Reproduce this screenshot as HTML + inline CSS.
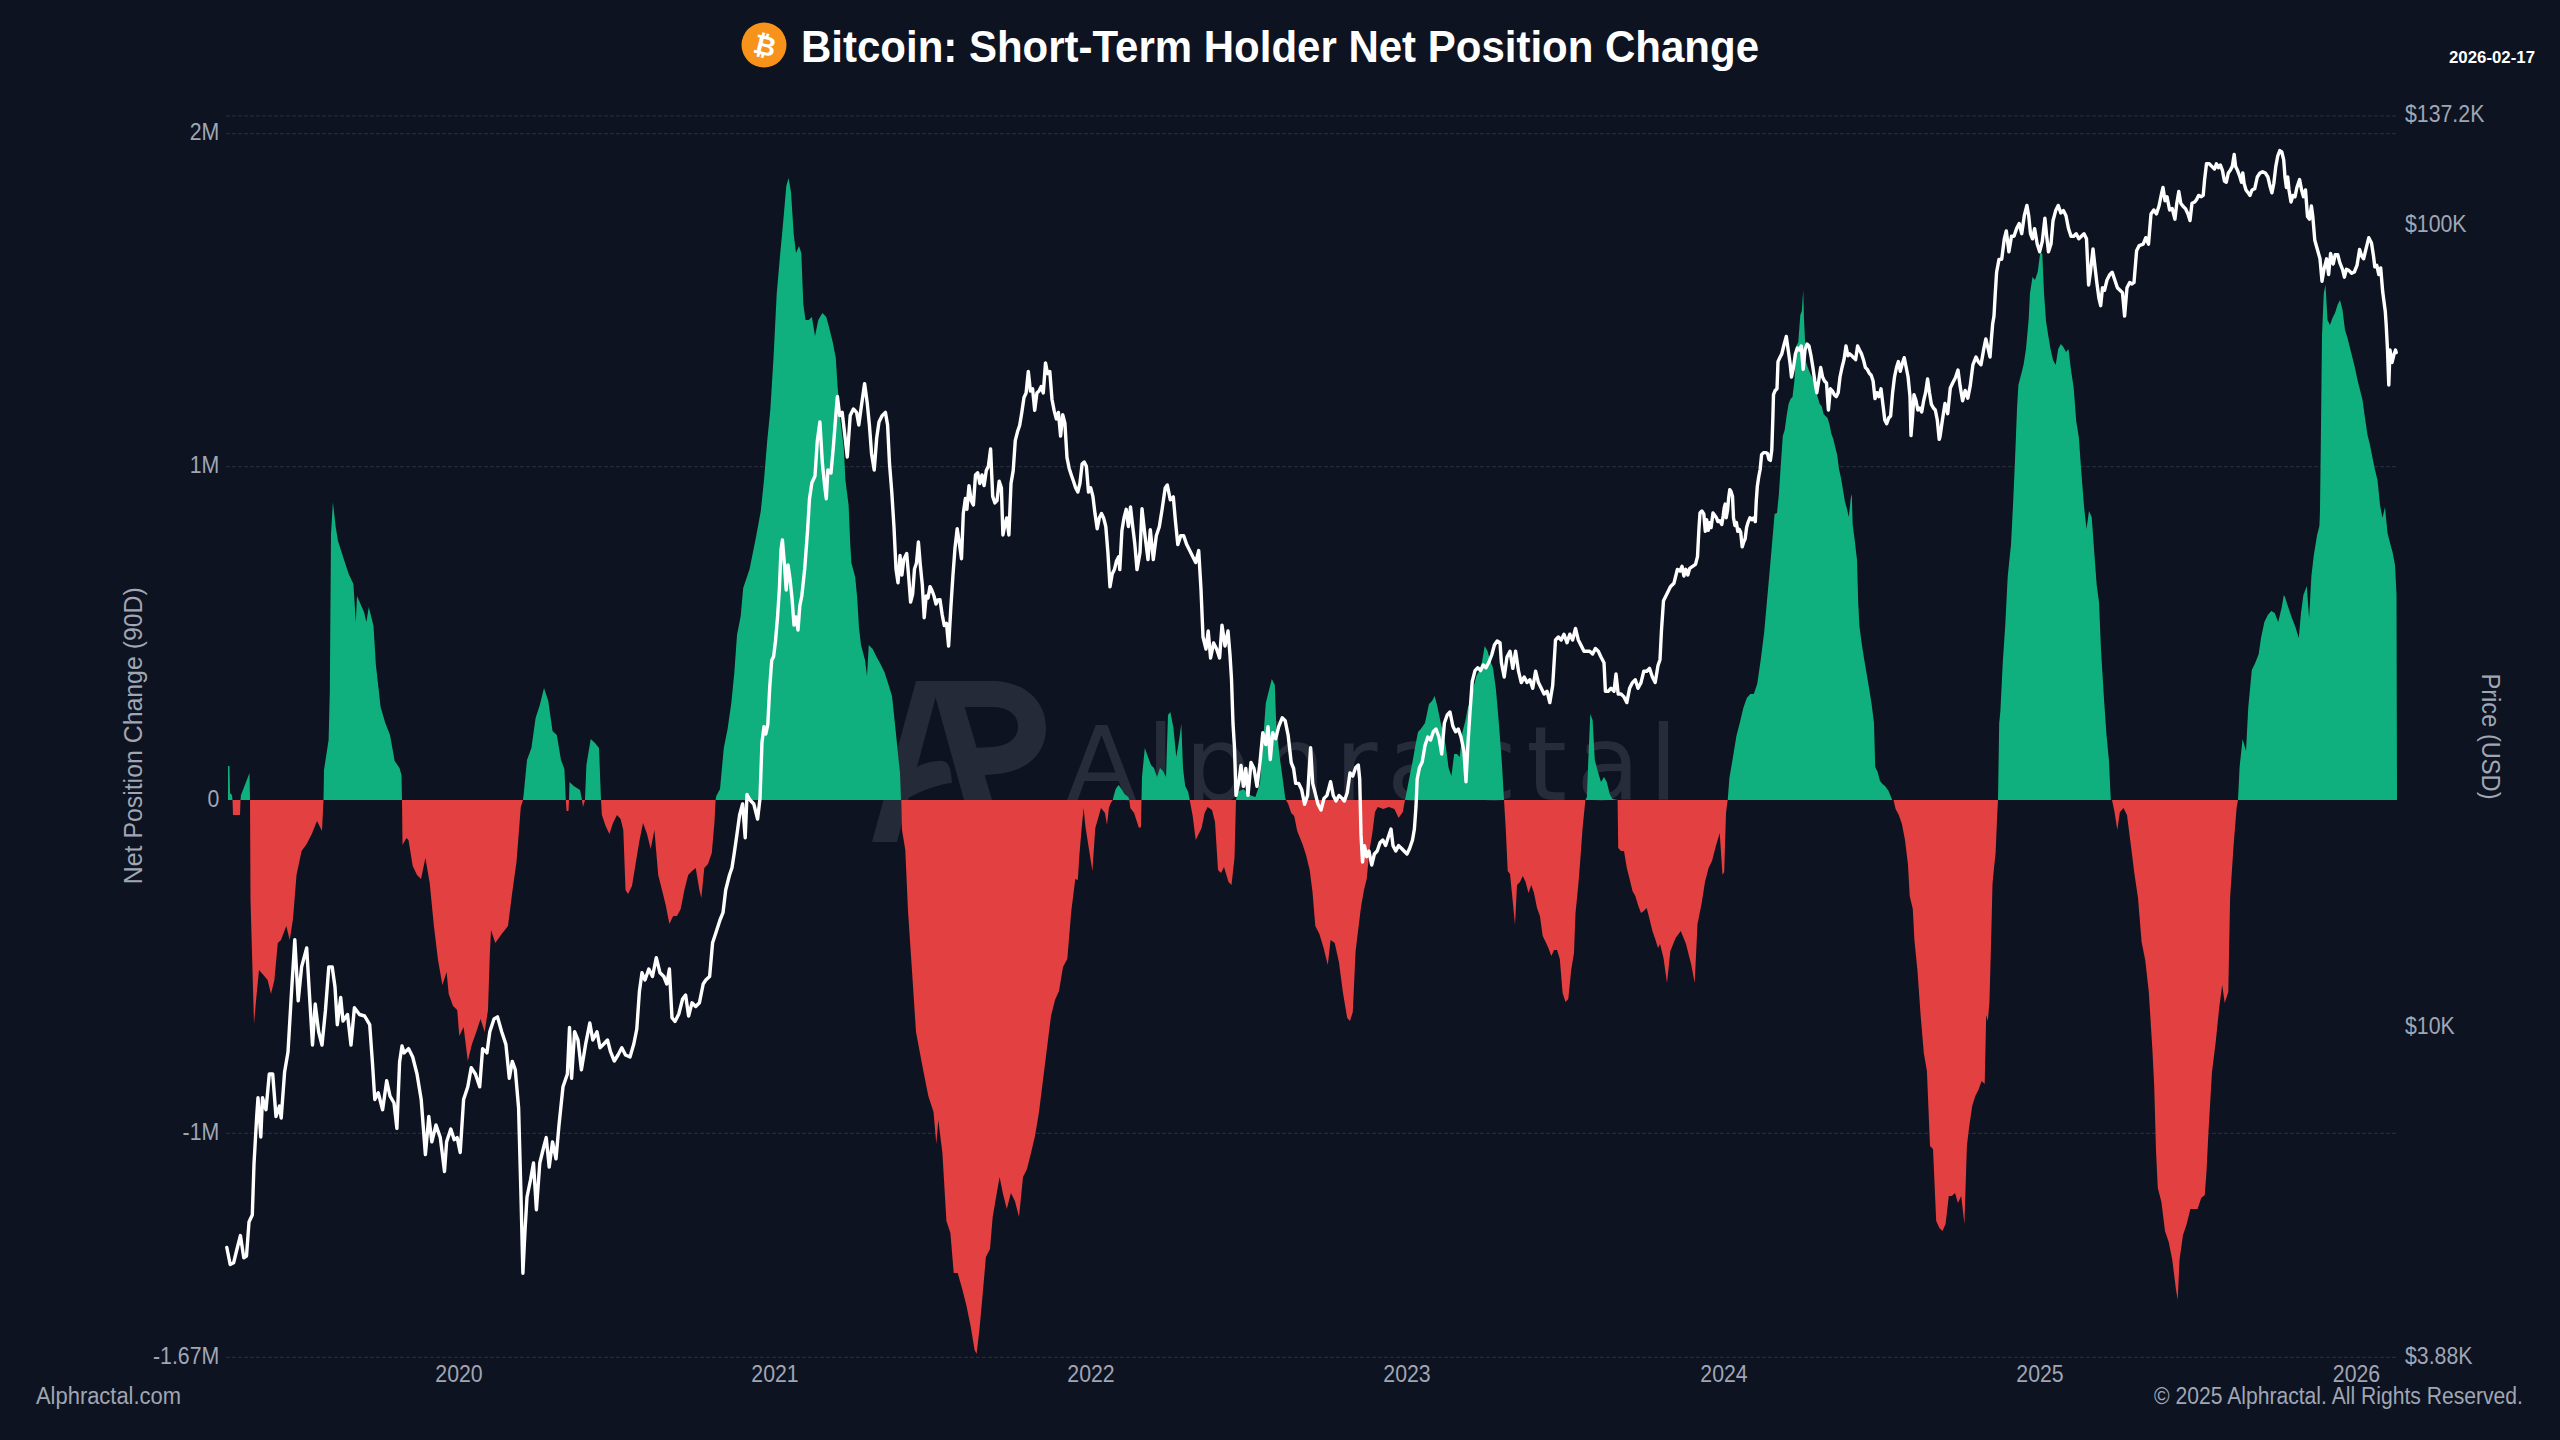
<!DOCTYPE html>
<html><head><meta charset="utf-8"><title>Bitcoin: Short-Term Holder Net Position Change</title>
<style>
html,body{margin:0;padding:0;background:#0d1320;}
body{width:2560px;height:1440px;overflow:hidden;position:relative;font-family:"Liberation Sans",Arial,sans-serif;}
svg{position:absolute;left:0;top:0;}
.g{stroke:#242a38;stroke-width:1.3;stroke-dasharray:4 2;}
.ax{fill:#a0a6b4;font-family:"Liberation Sans",Arial,sans-serif;}
.wm{fill:#262b37;}
</style></head>
<body>
<svg width="2560" height="1440" viewBox="0 0 2560 1440">
<rect x="0" y="0" width="2560" height="1440" fill="#0d1320"/>
<defs>
<clipPath id="cg"><rect x="0" y="0" width="2560" height="800"/></clipPath>
<clipPath id="cr"><rect x="0" y="800" width="2560" height="640"/></clipPath>
</defs>
<line x1="226" y1="115.8" x2="2397" y2="115.8" class="g"/>
<line x1="226" y1="133.6" x2="2397" y2="133.6" class="g"/>
<line x1="226" y1="466.7" x2="2397" y2="466.7" class="g"/>
<line x1="226" y1="1133.3" x2="2397" y2="1133.3" class="g"/>
<line x1="226" y1="1357.3" x2="2397" y2="1357.3" class="g"/>
<!-- watermark -->
<g fill="#242a37">
<polygon points="872,842 897,842 940,681 916,681"/>
<polygon points="931,681 957,681 992,800 964,800"/>
<path d="M903,776 C915,766 930,760 942,761 C949,762 951,768 952,783 C940,784 925,789 904,800 Z"/>
<path d="M950,681 L995,681 C1030,683 1046,705 1046,728 C1046,755 1025,772 996,774 L978,776 L972,748 L992,747 C1008,746 1018,738 1018,727 C1018,714 1008,707 992,707 L960,707 Z"/>
</g>
<text x="1066" y="800" font-size="104" textLength="612" lengthAdjust="spacing" style="font-family:'DejaVu Sans',sans-serif;fill:#262c3a">Alphractal</text>
<path d="M228,800 L228,800 L228,766 L229.5,766 L230,793 L232,795 L232.5,800 L233,815 L240,815 L240.5,800 L241,795 L249.5,773 L250,800 L250.5,900 L254,1024 L256,1001 L259,970 L262.5,974 L267.6,980 L271,994 L274.4,980 L277.8,943 L281,940 L286.3,926 L289.7,940 L293,919 L296.5,875 L301.6,851 L306.7,844 L311.8,834 L317,821 L322,831 L323.5,800 L324,770 L328.6,740 L329.8,692 L331,534 L332.9,502 L335.7,527 L338,541 L342.8,556 L348.7,574 L353.4,584 L355.8,622 L357,596 L364,612 L366.4,622 L368.8,607 L373.5,626 L375.8,664 L380.6,707 L385.3,723 L390,735 L394.7,761 L399.5,768 L401.5,775 L402,800 L402.5,845 L406.4,838 L408.5,840 L412.7,866 L417,875 L421,879 L425.4,858 L429.7,883 L433.9,926 L438,960 L442.4,985 L446.6,972 L448.7,994 L453,1006 L457.2,1010 L459.3,1036 L463.6,1027 L467.8,1061 L472,1044 L476.3,1032 L480.5,1019 L484.7,1032 L488,1010 L489.8,955 L491,930 L495.3,943 L501.7,934 L508,926 L512.3,892 L516.5,862 L520.8,807 L523,800 L523.7,794 L527,760 L531.4,748 L535.6,718 L539.8,705 L544,688 L548.3,701 L552.5,731 L556.8,735 L561,760 L564.4,769 L565.8,800 L566.5,811 L568.5,811 L569,800 L569.5,782 L573.7,786 L580,790 L582,800 L583,807 L585,800 L586.4,765 L590.7,739 L595,743 L599,748 L601,800 L601.9,815 L605.6,826 L609.4,834 L613,823 L617,815 L620.6,819 L623.3,830 L625.5,890 L628,894 L632,886 L635.6,864 L639.4,841 L643,823 L647,834 L650.7,849 L654.4,830 L658.2,875 L662,890 L665.7,905 L669.4,924 L673.2,916 L677,916 L680.7,909 L684.4,890 L688.2,875 L692,871 L695.7,868 L699.4,890 L701.3,898 L704.3,868 L708,864 L711.8,853 L714.4,823 L715.6,800 L716.3,796 L720,789 L723.8,748 L727.6,729 L731.3,703 L734.3,673 L737,635 L740.7,616 L743.2,588 L749.6,569 L756,537 L760.8,511 L764,480 L767.2,441 L770.4,409 L773.5,358 L776.7,294 L780,256 L783,224 L786.3,186 L788.6,178 L791,192 L793.7,234 L796,253 L799,246 L801.3,253 L803.3,304 L805.5,320 L808.7,320 L811.9,317 L815,336 L818.3,320 L822.4,313 L826.3,317 L829.5,329 L832.7,342 L835.8,358 L837.4,384 L840.6,422 L843.8,448 L845.4,480 L848.6,505 L850.2,543 L851.4,563 L855.2,577 L857.2,598 L859,628 L861,645 L865,660 L867,676 L868.8,645 L872.7,649 L876.6,657 L880.5,664 L884.4,672 L888.3,684 L892,696 L894,715 L896,734 L898,754 L900,773 L901,800 L901.3,800 L902,830 L905.3,850 L908,911 L912,971 L916,1032 L922,1064 L928.3,1096 L933.5,1112 L936.3,1144 L938.3,1120 L942.4,1153 L946.4,1221 L950.4,1233 L953.7,1273 L957.7,1273 L962.5,1290 L966.5,1306 L970.6,1326 L974.6,1350 L976.6,1354 L979.4,1330 L982.7,1294 L985.9,1257 L990,1249 L992.7,1217 L996.8,1193 L999.6,1177 L1002.8,1193 L1006.8,1209 L1010.9,1193 L1014.9,1201 L1019,1217 L1023,1177 L1027,1169 L1031,1153 L1035,1136 L1039,1112 L1043,1080 L1047,1048 L1051,1016 L1055,1000 L1059,991 L1063,967 L1067.3,959 L1071.3,911 L1075.3,879 L1077.8,880 L1079.4,855 L1081.5,830 L1083.6,808 L1085.5,827 L1089.4,852 L1092.4,871 L1095.3,828 L1098.2,818 L1101,808 L1105,813 L1107,825 L1108.9,808 L1110.8,803 L1112.8,800 L1113.7,796 L1115.7,789 L1118.6,785 L1121.5,789 L1124.4,794 L1128.3,797 L1129.3,800 L1130.3,808 L1134.1,813 L1136,819 L1139,828 L1141,827 L1141.5,800 L1142,777 L1144.8,748 L1148,757 L1151,765 L1154,768 L1157,777 L1160,768 L1163,771 L1166,777 L1168,715 L1170.3,712 L1173.3,727 L1176.3,757 L1179.3,739 L1181.3,724 L1183,768 L1185.2,786 L1188.2,792 L1189.7,800 L1192.7,816 L1195.7,840 L1198.7,834 L1201.6,828 L1204.6,813 L1207.6,807 L1212,810 L1215,822 L1218,870 L1221,873 L1224,867 L1228.5,882 L1231.5,885 L1234.5,858 L1236,800 L1237.5,792 L1243.4,789 L1249.4,795 L1255.4,797 L1260,783 L1262.8,745 L1265.8,703 L1268.8,691 L1271.8,679 L1274.8,685 L1276.3,727 L1279.3,754 L1282.2,775 L1285.2,798 L1286,800 L1288.2,804 L1291.2,813 L1294.2,816 L1297.2,831 L1300,838 L1302.8,845 L1306,855 L1309.7,870 L1312.5,892 L1315.3,926 L1319.4,934 L1323.6,948 L1327.8,965 L1330.6,940 L1334.7,943 L1338.9,962 L1343,993 L1347.2,1018 L1350,1021 L1352.8,1012 L1355.6,951 L1358.3,929 L1361,907 L1364,890 L1366.7,879 L1369.4,851 L1372.2,834 L1375,812 L1377.8,807 L1383.3,809 L1388.9,807 L1394.4,809 L1398.6,818 L1402.8,812 L1405,800 L1407,790 L1409.7,776 L1412.5,762 L1415.3,746 L1418,732 L1420.8,729 L1425,723 L1429,704 L1432,701 L1434.7,696 L1437.5,707 L1440.3,721 L1443,732 L1445.8,746 L1448.6,768 L1451.4,776 L1454.2,754 L1457,754 L1459.7,757 L1462.5,732 L1465.3,721 L1468,707 L1470.8,701 L1473.6,687 L1476.4,676 L1479,671 L1482,662 L1484.7,646 L1487.5,651 L1490,660 L1493,668 L1496,690 L1499,725 L1502,765 L1504,800 L1505.7,828 L1507.7,871 L1510,874 L1512.8,902 L1515,925 L1517,885 L1520,882 L1522.8,876 L1525.6,882 L1528.5,893 L1531.3,885 L1534,893 L1537,908 L1539.9,916 L1542.7,936 L1545.6,942 L1548.4,948 L1551.3,956 L1554.1,950 L1557,950 L1559.8,959 L1562.6,993 L1565.5,1002 L1568.3,999 L1571.2,970 L1574,953 L1575.5,913 L1578.3,885 L1580.6,856 L1582.6,828 L1585.4,800 L1586.9,797 L1588.3,760 L1590.3,714 L1592.6,720 L1594.8,760 L1597.7,771 L1601,782 L1604,777 L1606.8,782 L1609.7,794 L1612.5,799 L1617.6,800 L1618.2,848 L1621,851 L1624,851 L1626.8,868 L1629.6,879 L1632.5,891 L1635.3,896 L1638,905 L1641,913 L1643.8,911 L1646.7,908 L1649.5,919 L1652.4,931 L1655.2,939 L1658,948 L1660,944 L1663.5,958 L1667,983 L1670.4,951 L1675.6,938 L1680.8,931 L1686,944 L1691.3,965 L1694.7,983 L1697.5,924 L1701.7,903 L1705,882 L1708.6,868 L1712,861 L1715.6,847 L1719.7,833 L1722.5,875 L1724.2,872 L1726,813 L1727.7,800 L1729.4,778 L1733,757 L1736.4,736 L1740,722 L1743.3,708 L1746.8,698 L1750.3,694 L1753.8,694 L1757.2,684 L1760.7,660 L1764.2,632 L1767.6,594 L1771,556 L1774.6,514 L1777,513 L1778.9,494 L1780.8,465 L1782.8,436 L1784.7,430 L1786.6,416 L1788.6,404 L1790.5,399 L1792.5,397 L1794.4,381 L1796.4,346 L1798.3,342 L1800.3,315 L1801.8,311 L1803.2,290 L1804,319 L1806,362 L1808,368 L1810,373 L1812,377 L1813.9,383 L1815.8,391 L1817.7,397 L1819.7,404 L1821.6,406 L1823.6,414 L1825.5,416 L1827.5,418 L1829.4,424 L1831.4,434 L1833.3,439 L1835.2,447 L1837.2,455 L1839,469 L1841,478 L1843,490 L1845,502 L1847,509 L1848.8,517 L1850.8,498 L1851.8,494 L1852.7,525 L1854.7,540 L1857,560 L1858.2,602 L1859.4,626 L1861.9,645 L1864.3,660 L1866.7,674 L1869.2,689 L1871.6,704 L1874,723 L1875.2,767 L1877.7,772 L1880,781 L1882.5,784 L1885,786 L1888.6,791 L1892.2,800 L1893.5,800 L1895.6,809 L1898.8,815 L1901.9,824 L1905,840 L1908,865 L1909.7,896 L1912.8,909 L1914.4,940 L1917.5,971 L1920.6,1015 L1923.8,1053 L1926.9,1071 L1930,1146 L1933,1149 L1936.2,1221 L1939.4,1228 L1942.5,1231 L1945.6,1224 L1948.8,1196 L1951.9,1196 L1955,1193 L1958,1203 L1961.2,1196 L1964.4,1224 L1966.9,1146 L1969,1128 L1972.2,1106 L1975.3,1096 L1978.4,1090 L1981.6,1081 L1984.7,1084 L1986.2,1015 L1987.8,1021 L1989.4,1003 L1991,946 L1992.5,884 L1994,868 L1995.6,853 L1997.2,815 L1998,800 L1999.2,723 L2000.4,711 L2002.8,662 L2005.2,626 L2007.7,577 L2010.1,553 L2011,545 L2013.3,499 L2015,460 L2017,409 L2018.4,385 L2021,375 L2023.5,365 L2026,349 L2028.7,319 L2030,293 L2032.5,277 L2035,280 L2037.7,272 L2040.3,252 L2042.3,254 L2044,293 L2046,321 L2048,334 L2050.5,349 L2053,360 L2055.7,365 L2058.2,349 L2060.8,344 L2063.4,347 L2066,352 L2068.5,349 L2071,370 L2073.7,388 L2076.2,421 L2078.8,437 L2081.4,473 L2084,506 L2086.5,529 L2089,511 L2091.7,517 L2094.3,553 L2096.7,585 L2099,602 L2101,650 L2104,699 L2106.5,735 L2108.9,760 L2110.8,800 L2112,800 L2114.5,812 L2117.3,830 L2119.9,812 L2123.5,808 L2127,815 L2130.7,844 L2134.3,873 L2138,898 L2141.6,942 L2145.2,960 L2148.8,992 L2152.4,1050 L2154.2,1086 L2156,1151 L2157.8,1188 L2161.4,1202 L2165,1231 L2168.7,1242 L2172.3,1260 L2175.9,1289 L2177.7,1300 L2179.5,1260 L2183,1235 L2186.7,1224 L2190.4,1209 L2194,1209 L2197.6,1209 L2201.2,1198 L2204.8,1195 L2206.6,1170 L2208.4,1133 L2212,1072 L2215.6,1043 L2219.3,1007 L2222.2,985 L2224.7,1003 L2228.3,992 L2230.1,898 L2233.7,844 L2236.6,808 L2238,800 L2239.6,767 L2242.6,739 L2246,751 L2248.3,707 L2251.8,670 L2255.2,663 L2258.7,654 L2261,638 L2264.4,622 L2267.8,615 L2271.3,611 L2274.7,613 L2278.2,622 L2281.6,608 L2283.8,595 L2285,597 L2288.5,608 L2291.9,618 L2295.4,627 L2298.8,638 L2301,613 L2303.4,595 L2306.8,586 L2309.1,618 L2311.4,576 L2313.7,556 L2317.1,535 L2319.4,526 L2320,510 L2321.2,410 L2322,335 L2323.8,293 L2325.5,285 L2327.5,320 L2330,325 L2332.5,318 L2335,313 L2337.5,305 L2340,300 L2342.5,310 L2345,330 L2347.5,338 L2350,348 L2352.5,358 L2355,368 L2357.5,380 L2360,390 L2362.5,400 L2365,418 L2367.5,435 L2370,445 L2372.5,458 L2375,470 L2377.5,480 L2380,505 L2382.5,518 L2385,507 L2387.5,533 L2390,543 L2392.5,552 L2395,565 L2396.5,594 L2397,800 L2397,800 Z" fill="#10b07e" clip-path="url(#cg)"/>
<path d="M228,800 L228,800 L228,766 L229.5,766 L230,793 L232,795 L232.5,800 L233,815 L240,815 L240.5,800 L241,795 L249.5,773 L250,800 L250.5,900 L254,1024 L256,1001 L259,970 L262.5,974 L267.6,980 L271,994 L274.4,980 L277.8,943 L281,940 L286.3,926 L289.7,940 L293,919 L296.5,875 L301.6,851 L306.7,844 L311.8,834 L317,821 L322,831 L323.5,800 L324,770 L328.6,740 L329.8,692 L331,534 L332.9,502 L335.7,527 L338,541 L342.8,556 L348.7,574 L353.4,584 L355.8,622 L357,596 L364,612 L366.4,622 L368.8,607 L373.5,626 L375.8,664 L380.6,707 L385.3,723 L390,735 L394.7,761 L399.5,768 L401.5,775 L402,800 L402.5,845 L406.4,838 L408.5,840 L412.7,866 L417,875 L421,879 L425.4,858 L429.7,883 L433.9,926 L438,960 L442.4,985 L446.6,972 L448.7,994 L453,1006 L457.2,1010 L459.3,1036 L463.6,1027 L467.8,1061 L472,1044 L476.3,1032 L480.5,1019 L484.7,1032 L488,1010 L489.8,955 L491,930 L495.3,943 L501.7,934 L508,926 L512.3,892 L516.5,862 L520.8,807 L523,800 L523.7,794 L527,760 L531.4,748 L535.6,718 L539.8,705 L544,688 L548.3,701 L552.5,731 L556.8,735 L561,760 L564.4,769 L565.8,800 L566.5,811 L568.5,811 L569,800 L569.5,782 L573.7,786 L580,790 L582,800 L583,807 L585,800 L586.4,765 L590.7,739 L595,743 L599,748 L601,800 L601.9,815 L605.6,826 L609.4,834 L613,823 L617,815 L620.6,819 L623.3,830 L625.5,890 L628,894 L632,886 L635.6,864 L639.4,841 L643,823 L647,834 L650.7,849 L654.4,830 L658.2,875 L662,890 L665.7,905 L669.4,924 L673.2,916 L677,916 L680.7,909 L684.4,890 L688.2,875 L692,871 L695.7,868 L699.4,890 L701.3,898 L704.3,868 L708,864 L711.8,853 L714.4,823 L715.6,800 L716.3,796 L720,789 L723.8,748 L727.6,729 L731.3,703 L734.3,673 L737,635 L740.7,616 L743.2,588 L749.6,569 L756,537 L760.8,511 L764,480 L767.2,441 L770.4,409 L773.5,358 L776.7,294 L780,256 L783,224 L786.3,186 L788.6,178 L791,192 L793.7,234 L796,253 L799,246 L801.3,253 L803.3,304 L805.5,320 L808.7,320 L811.9,317 L815,336 L818.3,320 L822.4,313 L826.3,317 L829.5,329 L832.7,342 L835.8,358 L837.4,384 L840.6,422 L843.8,448 L845.4,480 L848.6,505 L850.2,543 L851.4,563 L855.2,577 L857.2,598 L859,628 L861,645 L865,660 L867,676 L868.8,645 L872.7,649 L876.6,657 L880.5,664 L884.4,672 L888.3,684 L892,696 L894,715 L896,734 L898,754 L900,773 L901,800 L901.3,800 L902,830 L905.3,850 L908,911 L912,971 L916,1032 L922,1064 L928.3,1096 L933.5,1112 L936.3,1144 L938.3,1120 L942.4,1153 L946.4,1221 L950.4,1233 L953.7,1273 L957.7,1273 L962.5,1290 L966.5,1306 L970.6,1326 L974.6,1350 L976.6,1354 L979.4,1330 L982.7,1294 L985.9,1257 L990,1249 L992.7,1217 L996.8,1193 L999.6,1177 L1002.8,1193 L1006.8,1209 L1010.9,1193 L1014.9,1201 L1019,1217 L1023,1177 L1027,1169 L1031,1153 L1035,1136 L1039,1112 L1043,1080 L1047,1048 L1051,1016 L1055,1000 L1059,991 L1063,967 L1067.3,959 L1071.3,911 L1075.3,879 L1077.8,880 L1079.4,855 L1081.5,830 L1083.6,808 L1085.5,827 L1089.4,852 L1092.4,871 L1095.3,828 L1098.2,818 L1101,808 L1105,813 L1107,825 L1108.9,808 L1110.8,803 L1112.8,800 L1113.7,796 L1115.7,789 L1118.6,785 L1121.5,789 L1124.4,794 L1128.3,797 L1129.3,800 L1130.3,808 L1134.1,813 L1136,819 L1139,828 L1141,827 L1141.5,800 L1142,777 L1144.8,748 L1148,757 L1151,765 L1154,768 L1157,777 L1160,768 L1163,771 L1166,777 L1168,715 L1170.3,712 L1173.3,727 L1176.3,757 L1179.3,739 L1181.3,724 L1183,768 L1185.2,786 L1188.2,792 L1189.7,800 L1192.7,816 L1195.7,840 L1198.7,834 L1201.6,828 L1204.6,813 L1207.6,807 L1212,810 L1215,822 L1218,870 L1221,873 L1224,867 L1228.5,882 L1231.5,885 L1234.5,858 L1236,800 L1237.5,792 L1243.4,789 L1249.4,795 L1255.4,797 L1260,783 L1262.8,745 L1265.8,703 L1268.8,691 L1271.8,679 L1274.8,685 L1276.3,727 L1279.3,754 L1282.2,775 L1285.2,798 L1286,800 L1288.2,804 L1291.2,813 L1294.2,816 L1297.2,831 L1300,838 L1302.8,845 L1306,855 L1309.7,870 L1312.5,892 L1315.3,926 L1319.4,934 L1323.6,948 L1327.8,965 L1330.6,940 L1334.7,943 L1338.9,962 L1343,993 L1347.2,1018 L1350,1021 L1352.8,1012 L1355.6,951 L1358.3,929 L1361,907 L1364,890 L1366.7,879 L1369.4,851 L1372.2,834 L1375,812 L1377.8,807 L1383.3,809 L1388.9,807 L1394.4,809 L1398.6,818 L1402.8,812 L1405,800 L1407,790 L1409.7,776 L1412.5,762 L1415.3,746 L1418,732 L1420.8,729 L1425,723 L1429,704 L1432,701 L1434.7,696 L1437.5,707 L1440.3,721 L1443,732 L1445.8,746 L1448.6,768 L1451.4,776 L1454.2,754 L1457,754 L1459.7,757 L1462.5,732 L1465.3,721 L1468,707 L1470.8,701 L1473.6,687 L1476.4,676 L1479,671 L1482,662 L1484.7,646 L1487.5,651 L1490,660 L1493,668 L1496,690 L1499,725 L1502,765 L1504,800 L1505.7,828 L1507.7,871 L1510,874 L1512.8,902 L1515,925 L1517,885 L1520,882 L1522.8,876 L1525.6,882 L1528.5,893 L1531.3,885 L1534,893 L1537,908 L1539.9,916 L1542.7,936 L1545.6,942 L1548.4,948 L1551.3,956 L1554.1,950 L1557,950 L1559.8,959 L1562.6,993 L1565.5,1002 L1568.3,999 L1571.2,970 L1574,953 L1575.5,913 L1578.3,885 L1580.6,856 L1582.6,828 L1585.4,800 L1586.9,797 L1588.3,760 L1590.3,714 L1592.6,720 L1594.8,760 L1597.7,771 L1601,782 L1604,777 L1606.8,782 L1609.7,794 L1612.5,799 L1617.6,800 L1618.2,848 L1621,851 L1624,851 L1626.8,868 L1629.6,879 L1632.5,891 L1635.3,896 L1638,905 L1641,913 L1643.8,911 L1646.7,908 L1649.5,919 L1652.4,931 L1655.2,939 L1658,948 L1660,944 L1663.5,958 L1667,983 L1670.4,951 L1675.6,938 L1680.8,931 L1686,944 L1691.3,965 L1694.7,983 L1697.5,924 L1701.7,903 L1705,882 L1708.6,868 L1712,861 L1715.6,847 L1719.7,833 L1722.5,875 L1724.2,872 L1726,813 L1727.7,800 L1729.4,778 L1733,757 L1736.4,736 L1740,722 L1743.3,708 L1746.8,698 L1750.3,694 L1753.8,694 L1757.2,684 L1760.7,660 L1764.2,632 L1767.6,594 L1771,556 L1774.6,514 L1777,513 L1778.9,494 L1780.8,465 L1782.8,436 L1784.7,430 L1786.6,416 L1788.6,404 L1790.5,399 L1792.5,397 L1794.4,381 L1796.4,346 L1798.3,342 L1800.3,315 L1801.8,311 L1803.2,290 L1804,319 L1806,362 L1808,368 L1810,373 L1812,377 L1813.9,383 L1815.8,391 L1817.7,397 L1819.7,404 L1821.6,406 L1823.6,414 L1825.5,416 L1827.5,418 L1829.4,424 L1831.4,434 L1833.3,439 L1835.2,447 L1837.2,455 L1839,469 L1841,478 L1843,490 L1845,502 L1847,509 L1848.8,517 L1850.8,498 L1851.8,494 L1852.7,525 L1854.7,540 L1857,560 L1858.2,602 L1859.4,626 L1861.9,645 L1864.3,660 L1866.7,674 L1869.2,689 L1871.6,704 L1874,723 L1875.2,767 L1877.7,772 L1880,781 L1882.5,784 L1885,786 L1888.6,791 L1892.2,800 L1893.5,800 L1895.6,809 L1898.8,815 L1901.9,824 L1905,840 L1908,865 L1909.7,896 L1912.8,909 L1914.4,940 L1917.5,971 L1920.6,1015 L1923.8,1053 L1926.9,1071 L1930,1146 L1933,1149 L1936.2,1221 L1939.4,1228 L1942.5,1231 L1945.6,1224 L1948.8,1196 L1951.9,1196 L1955,1193 L1958,1203 L1961.2,1196 L1964.4,1224 L1966.9,1146 L1969,1128 L1972.2,1106 L1975.3,1096 L1978.4,1090 L1981.6,1081 L1984.7,1084 L1986.2,1015 L1987.8,1021 L1989.4,1003 L1991,946 L1992.5,884 L1994,868 L1995.6,853 L1997.2,815 L1998,800 L1999.2,723 L2000.4,711 L2002.8,662 L2005.2,626 L2007.7,577 L2010.1,553 L2011,545 L2013.3,499 L2015,460 L2017,409 L2018.4,385 L2021,375 L2023.5,365 L2026,349 L2028.7,319 L2030,293 L2032.5,277 L2035,280 L2037.7,272 L2040.3,252 L2042.3,254 L2044,293 L2046,321 L2048,334 L2050.5,349 L2053,360 L2055.7,365 L2058.2,349 L2060.8,344 L2063.4,347 L2066,352 L2068.5,349 L2071,370 L2073.7,388 L2076.2,421 L2078.8,437 L2081.4,473 L2084,506 L2086.5,529 L2089,511 L2091.7,517 L2094.3,553 L2096.7,585 L2099,602 L2101,650 L2104,699 L2106.5,735 L2108.9,760 L2110.8,800 L2112,800 L2114.5,812 L2117.3,830 L2119.9,812 L2123.5,808 L2127,815 L2130.7,844 L2134.3,873 L2138,898 L2141.6,942 L2145.2,960 L2148.8,992 L2152.4,1050 L2154.2,1086 L2156,1151 L2157.8,1188 L2161.4,1202 L2165,1231 L2168.7,1242 L2172.3,1260 L2175.9,1289 L2177.7,1300 L2179.5,1260 L2183,1235 L2186.7,1224 L2190.4,1209 L2194,1209 L2197.6,1209 L2201.2,1198 L2204.8,1195 L2206.6,1170 L2208.4,1133 L2212,1072 L2215.6,1043 L2219.3,1007 L2222.2,985 L2224.7,1003 L2228.3,992 L2230.1,898 L2233.7,844 L2236.6,808 L2238,800 L2239.6,767 L2242.6,739 L2246,751 L2248.3,707 L2251.8,670 L2255.2,663 L2258.7,654 L2261,638 L2264.4,622 L2267.8,615 L2271.3,611 L2274.7,613 L2278.2,622 L2281.6,608 L2283.8,595 L2285,597 L2288.5,608 L2291.9,618 L2295.4,627 L2298.8,638 L2301,613 L2303.4,595 L2306.8,586 L2309.1,618 L2311.4,576 L2313.7,556 L2317.1,535 L2319.4,526 L2320,510 L2321.2,410 L2322,335 L2323.8,293 L2325.5,285 L2327.5,320 L2330,325 L2332.5,318 L2335,313 L2337.5,305 L2340,300 L2342.5,310 L2345,330 L2347.5,338 L2350,348 L2352.5,358 L2355,368 L2357.5,380 L2360,390 L2362.5,400 L2365,418 L2367.5,435 L2370,445 L2372.5,458 L2375,470 L2377.5,480 L2380,505 L2382.5,518 L2385,507 L2387.5,533 L2390,543 L2392.5,552 L2395,565 L2396.5,594 L2397,800 L2397,800 Z" fill="#e24041" clip-path="url(#cr)"/>
<path d="M226.8,1247.5 L230.2,1264.5 L233.6,1262.8 L237,1249 L240.4,1235.6 L243.8,1257.7 L246.5,1256 L249,1222 L252.3,1215 L254,1164 L256.7,1116.5 L258,1097.8 L260.8,1137 L262.5,1097.8 L266,1109.7 L269.3,1074 L272.7,1074 L276,1116.5 L279.5,1106 L281.2,1118 L284.6,1072 L288,1052 L291.4,994 L294.8,939.7 L298.2,1000.9 L301.6,966.9 L306.7,948 L309,987 L312.5,1045 L315.2,1004 L318.6,1031.5 L322,1045 L325.4,1011 L328.8,966.9 L332.2,966.9 L335,987 L337.3,1024.7 L340.7,997.5 L343,1021 L347.5,1014.5 L351,1045 L354.4,1007.7 L359.5,1014.5 L364.6,1016 L369.7,1024.7 L372.4,1062 L374.8,1099.5 L378.2,1092.7 L382.6,1109.7 L386.7,1080.8 L390,1096 L394,1103 L396.9,1128.4 L399.6,1062 L402,1046 L404.2,1052.9 L408.5,1048.6 L412.7,1057 L417,1074 L421.2,1099.5 L425.4,1154.6 L428.8,1116.4 L431.8,1141.9 L436,1125 L440.3,1137.6 L444.5,1171.5 L446.6,1141.9 L450.8,1129 L454.2,1139.7 L457.2,1137.6 L460.2,1152.5 L463.6,1099.5 L467.8,1086.8 L471.2,1067.7 L475.4,1074 L479.7,1086.8 L482.6,1048.6 L486.9,1052.9 L489.8,1031.7 L494,1019 L497.5,1016.9 L501.7,1031.7 L505.9,1044.4 L509.3,1078.3 L512.3,1061.4 L515.3,1069.8 L518.6,1108 L520.8,1188.5 L522.9,1273.2 L525,1231 L527,1197 L530.5,1180 L533.5,1163 L536.4,1209.7 L539.8,1163 L544,1146 L546.2,1137.6 L549.2,1167 L552.5,1141.9 L556,1158.8 L559,1125 L563,1086.8 L567.4,1074 L569.5,1027.5 L571.6,1078.3 L574.6,1031.7 L578,1040 L581.4,1069.8 L585.6,1044.4 L589.8,1023 L592.8,1040 L597,1031.7 L600,1047.8 L603.8,1044 L607.5,1040 L610.5,1051.6 L614.3,1061 L618,1055 L621.8,1047.8 L625.5,1055 L630,1057 L633.8,1044 L636.8,1029 L639.4,991.5 L642,972.8 L645,980 L648.8,969 L652.5,976.5 L656.3,957.7 L660,972.8 L663.8,976.5 L666.8,984 L669.4,969 L672,1017.8 L675,1021.5 L678.8,1014 L682.6,999 L685.6,995 L688.6,1016 L692,1002.8 L695.7,1006.5 L699.4,1002.8 L703.2,984 L705.8,980 L709.6,976.5 L712.6,942.7 L716.3,931.5 L720,920 L723,912.7 L725.7,890 L729.5,875 L732,867.7 L734.3,852.7 L737,834 L739.6,815 L742.6,804 L745.2,837.7 L747,794.5 L750,800 L753.8,804 L757.6,819 L760,798.5 L762,742 L764,726.6 L765.8,734 L767.8,724.6 L769.7,687.7 L771.7,660.5 L773.6,656.6 L775.5,641 L777.5,617.7 L779.4,588.6 L781,549.7 L782.4,540 L784.5,565 L786.2,590 L788,565 L790,579 L792,598 L794,625 L796,617 L798,630 L799.8,606 L801.8,596 L804.7,569 L807.6,530 L809.5,498.7 L811.9,482.7 L815,476 L817.3,441 L819.9,422 L822.4,463.5 L824.7,486 L826.3,498.7 L827.9,470 L831,473 L833.3,447.5 L835.8,415.6 L837.4,396.4 L839.7,415.6 L842.2,412.4 L844.8,434.8 L847.3,457 L850.2,415.6 L853.4,409 L856.6,412.4 L858.8,425 L861.4,406 L864.6,383.6 L867.2,402.8 L869.4,425 L871.6,454 L874.2,470 L876.7,438 L879,422 L882.2,415.6 L885.4,412.4 L887.6,425 L889.5,463.5 L891.8,492.3 L894,527.4 L896,569 L898,582.8 L900,555.5 L901.9,575 L903.8,559.4 L906.7,553.6 L908.7,577 L910.6,602 L912.6,594.4 L914.5,569 L916.5,563 L918.4,542 L920.3,565 L922.3,584.7 L924.2,617.7 L926.2,596 L928,598 L930,586.6 L932,590.5 L934,596 L936,604 L937.8,600 L940,599.7 L942.2,614.8 L944.3,625.6 L946.5,623.4 L948.6,646 L950.8,608.3 L952.9,576 L955,548 L957.2,528.7 L959.4,543.8 L961.5,558.8 L963.3,513.6 L965.4,498.5 L966.9,509.3 L969,485.6 L971.2,500.7 L973.4,505 L975.5,474.9 L977.7,472.7 L979.8,483.5 L982,474.9 L984.1,485.6 L986.3,470.6 L988.4,466.3 L990.6,449 L992.7,496.4 L994.9,502.9 L997,500.7 L999.2,481.3 L1001.4,487.8 L1002.9,535 L1004.6,526.5 L1006.7,518 L1008.9,535 L1011,483.5 L1013.2,470.6 L1015.3,440.4 L1017.5,431.8 L1019.7,425.3 L1021.8,412.4 L1024,397.4 L1026.1,393 L1028.3,371.5 L1030.4,391 L1032.6,388.8 L1034.7,410.3 L1036.9,393 L1039,391 L1041.2,386.6 L1043.3,393 L1045.5,362.9 L1047.6,373.7 L1049.8,371.5 L1052,399.5 L1054.1,410.3 L1056.3,418.9 L1058.4,412.4 L1060.6,436 L1062.7,414.6 L1064.9,423.2 L1067,457.6 L1069.2,468.4 L1071.3,474.9 L1073.5,481.3 L1075.6,487.8 L1077.8,492 L1079.9,483.5 L1082.1,464 L1084.2,462 L1086.4,466.3 L1088.5,492 L1090.7,487.8 L1092.9,496.4 L1095,513.6 L1097.2,528.7 L1099.3,517.9 L1101.5,513.6 L1103.6,517.9 L1105.8,526.5 L1107.9,552.4 L1110,586.8 L1112.2,573.9 L1114.4,569.6 L1116.5,561 L1118.7,556.7 L1119.8,569.6 L1121.9,530.8 L1124,517.9 L1126.2,509.3 L1128.4,526.5 L1130.5,507 L1132.7,526.5 L1134.8,543.8 L1137,569.6 L1140,552.4 L1142,508.8 L1145,535.7 L1148,559.6 L1150.3,529.7 L1153.3,559.6 L1156.3,535.7 L1159.3,526.7 L1162.2,508.8 L1165.2,487.9 L1167.3,485 L1170.3,499.9 L1173.3,496.9 L1175.4,520.7 L1177.8,544.6 L1180.7,535.7 L1183.7,535.7 L1186.7,544.6 L1189.7,550.6 L1192.7,556.6 L1195.7,562.5 L1198.7,550.6 L1201,589.4 L1203,637 L1206,649 L1208.2,631 L1210.6,658 L1213.6,643 L1216.6,649 L1219.6,658 L1222,625.2 L1225,646 L1228,631 L1230,655 L1231.5,679 L1233,723.7 L1234.5,747.6 L1236,795.4 L1239,780.4 L1241,765.5 L1243.4,786.4 L1245.8,768.5 L1248,795.4 L1251,762.5 L1254,768.5 L1257,786.4 L1260,762.5 L1262.8,732.7 L1265.8,744.6 L1268,726.7 L1270.3,759.6 L1272.7,732.7 L1275.7,738.7 L1278.7,726.7 L1282.2,717.8 L1285.2,720.7 L1288.2,735.7 L1291.2,762.5 L1293.6,768.5 L1295.7,783.4 L1298.7,783.4 L1301.6,789.4 L1304.6,804.3 L1307.6,795.4 L1310.6,747.6 L1312.7,783.4 L1315,792.4 L1318,804.3 L1321,810 L1324,798.4 L1327,795.4 L1330.6,781.7 L1333.3,795.6 L1336,801 L1339,795.6 L1341.7,798 L1344.4,801 L1347.2,792.8 L1350,773 L1352.8,776 L1355.6,767.8 L1358.3,765 L1359.7,779 L1361,834.4 L1362.5,862 L1364.4,845.6 L1366.7,856.7 L1369,851 L1371.7,865 L1374.4,854 L1377.2,851 L1380,842.8 L1382.8,840 L1385.6,845.6 L1388.3,837 L1391,829 L1393,845.6 L1395.8,851 L1398.6,845.6 L1401.4,848.3 L1404,851 L1407,854 L1409.7,848.3 L1412.5,840 L1414.4,829 L1416,806.7 L1417.2,779 L1419.4,767.8 L1422.2,762 L1425,745.6 L1427.8,737 L1430.6,740 L1433.3,731.7 L1436,729 L1438.9,737 L1441.7,754 L1444.4,723 L1447.2,715 L1450,712 L1452.8,726 L1455.6,731.7 L1458.3,729 L1461,737 L1463.9,751 L1466,781.7 L1468,742.8 L1470,712 L1472.2,681.7 L1475,670.6 L1477.8,667.8 L1480.6,670.6 L1483.3,665 L1486,667.8 L1489,662 L1491.7,655 L1494.4,645 L1497.2,641 L1500,642.7 L1501.4,662.7 L1504.2,677 L1507,657 L1510,651.3 L1512.8,668.4 L1515.6,651.3 L1518.5,671.2 L1521.3,682.6 L1524.2,677 L1527,682.6 L1529.9,679.8 L1532.7,688.3 L1535.6,671.2 L1538.4,682.6 L1541.3,688.3 L1544.1,694 L1547,691.2 L1549.8,702.6 L1552.7,685.5 L1555.5,640 L1558.4,637 L1561.2,640 L1564,634.2 L1567,642.7 L1569.8,634.2 L1572.6,640 L1575.5,628.5 L1578.3,640 L1581.2,645.6 L1584,651.3 L1586.9,651.3 L1589.7,651.3 L1592.6,654 L1595.4,648.4 L1598.3,651.3 L1601,657 L1604,662.7 L1605.4,691.2 L1608.2,691.2 L1611,688.3 L1614,691.2 L1616,674 L1618.2,694 L1621,694 L1624,696.9 L1626.8,702.6 L1629.6,688.3 L1632.5,682.6 L1635.3,679.8 L1638,688.3 L1641,682.6 L1643.8,671.2 L1646.7,671.2 L1649.5,668.4 L1652.4,677 L1655.2,682.6 L1658,665.5 L1660,659.7 L1661.5,630 L1663.5,600.7 L1667,593.8 L1670.4,586.8 L1673.9,583.3 L1677.4,569.4 L1680,571 L1682,566.3 L1683.9,576 L1685.8,569.3 L1687.8,575 L1689.7,568.3 L1692.6,566.3 L1695.5,564.4 L1697.5,556.6 L1699,527.5 L1700,513 L1701.9,511 L1703.8,513.9 L1705.3,531.4 L1706.7,519.7 L1708.2,530.4 L1709.6,522.6 L1711.1,527.5 L1713,513 L1715,515.8 L1716.4,517.7 L1717.9,521.6 L1719.8,520.7 L1721.8,524.5 L1723.2,515.8 L1724.2,508 L1725.2,504.1 L1726.2,517.7 L1727.6,510 L1728.6,498.3 L1729.8,489.6 L1731,491.5 L1732.5,496.4 L1733.5,517.7 L1734.9,525.5 L1736.4,522.6 L1737.8,531.4 L1739.3,529.4 L1740.7,532.3 L1742.2,546.9 L1743.7,542 L1745.1,539.1 L1746.6,527.5 L1748,522.6 L1750,517.7 L1751.9,519.7 L1753.9,517.7 L1755.3,521.6 L1756.3,500.3 L1757.3,486.6 L1758.7,477 L1760.2,469.2 L1761.6,454.6 L1763.6,452.6 L1765.5,452.6 L1767.5,453.6 L1768.9,459.4 L1770.4,460.4 L1771.8,449.7 L1772.8,420 L1773.5,394.7 L1775,390.8 L1777,388.8 L1778,361.6 L1779.8,357.7 L1781.8,353.9 L1783.7,346 L1786.3,336.4 L1788.2,350 L1790.1,363.6 L1791.5,377 L1793.5,367.5 L1795.4,353.9 L1797.3,348 L1799.3,350 L1801.2,346 L1803.2,369.4 L1805,350 L1807,344 L1809,346 L1811,355.8 L1812.9,367.5 L1814.8,381 L1816.8,392.7 L1818.7,381 L1820.7,367.5 L1822.6,377 L1824.5,381 L1826.5,383 L1828.4,410 L1830.4,388.8 L1832.3,390.8 L1834.3,394.7 L1836.2,396.6 L1838.2,392.7 L1840,377 L1842,367.5 L1844,359.7 L1846,346 L1847.9,355.8 L1849.8,353.9 L1851.8,355.8 L1853.7,357.7 L1855.6,359.7 L1857.6,346 L1859.5,350 L1861.5,353.9 L1863.4,359.7 L1865.4,367.5 L1867.3,369.4 L1869.3,373.3 L1871.2,375.2 L1873.1,381 L1875,398.6 L1877,392.7 L1879,396.6 L1881,388.8 L1882.9,404.4 L1884.8,420 L1886.7,423.8 L1888.7,418 L1890.6,416 L1892.6,392.7 L1894.5,377 L1896.5,367.5 L1898.4,361.6 L1900.3,371.3 L1902.3,363.6 L1904.2,357.7 L1906.2,367.5 L1908.1,377 L1910,396.6 L1911,435.5 L1912.6,416 L1914,394.7 L1916,400.5 L1917.8,410 L1919.8,408 L1921.7,412 L1923.7,400.5 L1925.6,392.7 L1927.6,379 L1929.5,392.7 L1931.4,404.4 L1933.4,408 L1935.3,410 L1937.3,420 L1939.2,439.4 L1940,436.8 L1942.6,418.8 L1945,403.4 L1947.7,413.7 L1950.3,388 L1952.8,382.8 L1955.4,377.7 L1958,370 L1960,385.4 L1962.6,400.8 L1965.2,390.5 L1967.8,398.2 L1970.3,385.4 L1972.9,364.8 L1976,357 L1978.6,362.2 L1981,364.8 L1983.7,349.4 L1985.8,339 L1988.3,349.4 L1990,357 L1991.4,339 L1992.7,323.7 L1994,316 L1995.3,292.8 L1996.6,272.3 L1999,259.4 L2001.7,259.4 L2004.3,238.8 L2006.3,231 L2008.9,251.7 L2011.5,236.3 L2014,236.3 L2016.6,228.6 L2019.2,223.4 L2021.7,233.7 L2024.3,215.7 L2026.9,205.4 L2028.7,215.7 L2030.5,233.7 L2032.5,238.8 L2034.6,228.6 L2037.2,244 L2039.7,251.7 L2042.3,241.4 L2044.9,218.3 L2046.7,236.3 L2048.5,251.7 L2051,244 L2053,220.8 L2055.7,210.6 L2058.2,205.4 L2060.8,213 L2063.4,210.6 L2066,215.7 L2068.5,228.6 L2071,236.3 L2073.7,236.3 L2076.2,233.7 L2078.8,238.8 L2081.4,236.3 L2084,233.7 L2086.5,238.8 L2088.6,285 L2090.4,272.3 L2093,249 L2095,267 L2096.8,282.5 L2098.9,298 L2100.7,305.7 L2102.5,287.7 L2104.5,290.3 L2107,280 L2109.7,274.8 L2112.2,272.3 L2114.8,280 L2117.4,287.7 L2120,290.3 L2122.5,292.8 L2124.6,316 L2127,287.7 L2129.7,282.5 L2132,284 L2134,282.5 L2136.6,250.8 L2139.2,245.6 L2143.2,244.2 L2145.8,237.7 L2148.5,244.2 L2151,213.9 L2153.8,210 L2156.4,213.9 L2159,206 L2161.7,192.8 L2163,187.5 L2165,200.7 L2167,196.7 L2169.6,210 L2172.2,208.6 L2174.9,219.2 L2176.8,203.3 L2178.8,191.5 L2180.8,203.3 L2182.8,206 L2185.4,208.6 L2188,213.9 L2190,220.5 L2192,203.3 L2194.7,202 L2196.6,199.4 L2198.6,195.4 L2201.3,196.7 L2203.2,195.4 L2204.6,179.6 L2206.5,163.8 L2209.2,163.8 L2211.8,166.4 L2214.5,169 L2216.4,163.8 L2218.4,167.7 L2220.4,165 L2222.4,170.3 L2224.4,181 L2226.3,182.2 L2228.3,173 L2230.3,170.3 L2232.3,166.4 L2234.2,154.5 L2235.6,166.4 L2237.5,170.3 L2239.5,175.6 L2241.5,182.2 L2242.8,173 L2244.1,183.5 L2246,190 L2248.1,192.8 L2250,195.4 L2252,190 L2254.7,188.8 L2257.3,177 L2260,173 L2262.6,171.7 L2265.3,173 L2267.9,177 L2270,186.2 L2271.9,192.8 L2273.8,183.5 L2275.8,166.4 L2277.8,155.8 L2279.8,150.6 L2281.8,151.9 L2283.7,159.8 L2285,177 L2286.4,187.5 L2287.7,177 L2289,190 L2291,202 L2293,195.4 L2295,196.7 L2296.9,187.5 L2299.6,179.6 L2301.6,190 L2303.5,196.7 L2305.5,190 L2307.5,216.5 L2309.5,219.2 L2311.4,206 L2312.8,216.5 L2314.8,240.3 L2317.4,249.5 L2320,258.8 L2322,281.2 L2324,269.3 L2326.6,258.8 L2328.6,274.6 L2330.6,253.5 L2333.2,264 L2335.2,254.8 L2337.8,254.8 L2339.8,262.7 L2342.5,269.3 L2344.4,277.2 L2346.4,269.3 L2349,270.6 L2351.7,273.3 L2354.3,272 L2357,265.4 L2359.6,249.5 L2361.6,256 L2363.6,258.8 L2366.2,248.2 L2368.8,237.7 L2371.5,243 L2373.5,256 L2374.8,266.7 L2376.8,265.4 L2378.8,274.6 L2380.7,268 L2382.7,291.8 L2385.3,311.5 L2386.2,325 L2387.5,350 L2388.8,385 L2390,350 L2392,362.5 L2393.8,355 L2395.5,350 L2396.2,352.5" fill="none" stroke="#ffffff" stroke-width="3.4" stroke-linejoin="round" stroke-linecap="round"/>
<text class="ax" transform="translate(219.3 140.2) scale(1 1.13)" x="0" y="0" font-size="21.3" text-anchor="end">2M</text>
<text class="ax" transform="translate(219.3 473.3) scale(1 1.13)" x="0" y="0" font-size="21.3" text-anchor="end">1M</text>
<text class="ax" transform="translate(219.3 806.6) scale(1 1.13)" x="0" y="0" font-size="21.3" text-anchor="end">0</text>
<text class="ax" transform="translate(219.3 1139.9) scale(1 1.13)" x="0" y="0" font-size="21.3" text-anchor="end">-1M</text>
<text class="ax" transform="translate(219.3 1363.9) scale(1 1.13)" x="0" y="0" font-size="21.3" text-anchor="end">-1.67M</text>
<text class="ax" transform="translate(2405 122.0) scale(1 1.13)" x="0" y="0" font-size="21.3">$137.2K</text>
<text class="ax" transform="translate(2405 232.0) scale(1 1.13)" x="0" y="0" font-size="21.3">$100K</text>
<text class="ax" transform="translate(2405 1033.9) scale(1 1.13)" x="0" y="0" font-size="21.3">$10K</text>
<text class="ax" transform="translate(2405 1364.0) scale(1 1.13)" x="0" y="0" font-size="21.3">$3.88K</text>
<text class="ax" transform="translate(459 1381.7) scale(1 1.13)" x="0" y="0" font-size="21.3" text-anchor="middle">2020</text>
<text class="ax" transform="translate(775 1381.7) scale(1 1.13)" x="0" y="0" font-size="21.3" text-anchor="middle">2021</text>
<text class="ax" transform="translate(1091 1381.7) scale(1 1.13)" x="0" y="0" font-size="21.3" text-anchor="middle">2022</text>
<text class="ax" transform="translate(1407 1381.7) scale(1 1.13)" x="0" y="0" font-size="21.3" text-anchor="middle">2023</text>
<text class="ax" transform="translate(1724 1381.7) scale(1 1.13)" x="0" y="0" font-size="21.3" text-anchor="middle">2024</text>
<text class="ax" transform="translate(2040 1381.7) scale(1 1.13)" x="0" y="0" font-size="21.3" text-anchor="middle">2025</text>
<text class="ax" transform="translate(2356.5 1381.7) scale(1 1.13)" x="0" y="0" font-size="21.3" text-anchor="middle">2026</text>
<text class="ax" transform="translate(141.5 735.7) rotate(-90)" x="0" y="0" font-size="25" text-anchor="middle" textLength="297" lengthAdjust="spacingAndGlyphs">Net Position Change (90D)</text>
<text class="ax" transform="translate(2481.5 736.5) rotate(90)" x="0" y="0" font-size="26" text-anchor="middle" textLength="126" lengthAdjust="spacingAndGlyphs">Price (USD)</text>
<text class="ax" transform="translate(36 1404.3) scale(1 1.13)" x="0" y="0" font-size="21.6" textLength="145" lengthAdjust="spacingAndGlyphs">Alphractal.com</text>
<text class="ax" transform="translate(2154 1404.3) scale(1 1.13)" x="0" y="0" font-size="21.6" textLength="369" lengthAdjust="spacingAndGlyphs">© 2025 Alphractal. All Rights Reserved.</text>
<circle cx="764" cy="45" r="22.5" fill="#f7931a"/>
<text x="765" y="46" fill="#ffffff" font-size="27" font-weight="bold" text-anchor="middle" dominant-baseline="central" transform="rotate(14 765 45.5)">₿</text>
<text x="801" y="62" fill="#ffffff" font-size="44" font-weight="bold" textLength="958" lengthAdjust="spacingAndGlyphs">Bitcoin: Short-Term Holder Net Position Change</text>
<text x="2449" y="62.5" fill="#ffffff" font-size="16.5" font-weight="bold" textLength="86" lengthAdjust="spacingAndGlyphs">2026-02-17</text>
</svg>
</body></html>
